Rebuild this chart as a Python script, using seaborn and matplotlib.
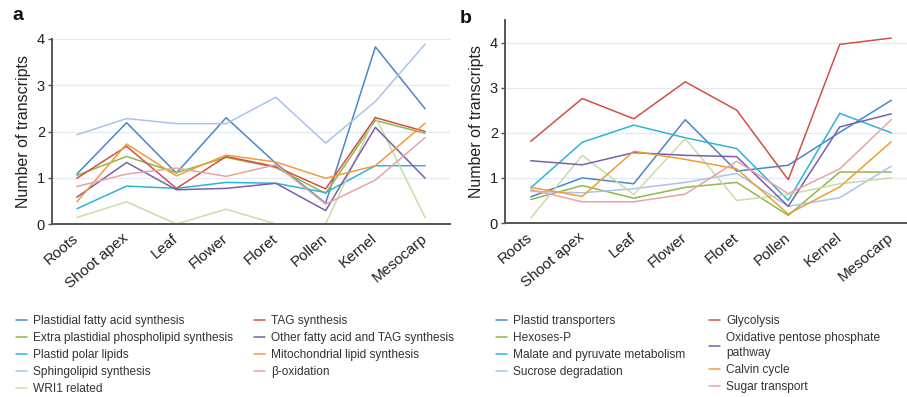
import numpy as np
import pandas as pd
import matplotlib
matplotlib.use("Agg")
import matplotlib.pyplot as plt
import seaborn as sns
from matplotlib.lines import Line2D

sns.set_theme(style="white")
plt.rcParams['font.family'] = ['Liberation Sans', 'DejaVu Sans']

tissues = ["Roots", "Shoot apex", "Leaf", "Flower", "Floret", "Pollen", "Kernel", "Mesocarp"]

# Panel a series
a_names = ["Plastidial fatty acid synthesis", "Extra plastidial phospholipid synthesis",
           "Plastid polar lipids", "Sphingolipid synthesis", "WRI1 related",
           "TAG synthesis", "Other fatty acid and TAG synthesis",
           "Mitochondrial lipid synthesis", "β-oxidation"]
a_plastidial_fa = [1.08, 2.19, 1.10, 2.30, 1.31, 0.45, 3.83, 2.49]
a_extra_plastidial = [1.05, 1.46, 1.11, 1.44, 1.22, 0.66, 2.24, 1.96]
a_plastid_polar = [0.33, 0.82, 0.77, 0.90, 0.88, 0.68, 1.26, 1.26]
a_sphingolipid = [1.93, 2.28, 2.17, 2.17, 2.74, 1.75, 2.65, 3.89]
a_wri1 = [0.14, 0.48, 0.0, 0.32, 0.0, 0.0, 2.32, 0.14]
a_tag = [0.99, 1.68, 0.77, 1.46, 1.24, 0.76, 2.30, 2.00]
a_other_fa = [0.58, 1.33, 0.74, 0.77, 0.88, 0.29, 2.09, 0.99]
a_mito = [0.48, 1.73, 1.04, 1.49, 1.34, 0.99, 1.26, 2.18]
a_beta_ox = [0.81, 1.08, 1.21, 1.03, 1.28, 0.43, 0.95, 1.87]

# Panel b series
b_names = ["Plastid transporters", "Hexoses-P", "Malate and pyruvate metabolism",
           "Sucrose degradation", "Unlabelled", "Glycolysis",
           "Oxidative pentose phosphate\npathway", "Calvin cycle", "Sugar transport"]
b_plastid_tr = [0.58, 1.00, 0.87, 2.29, 1.15, 1.28, 2.01, 2.72]
b_hexoses = [0.52, 0.83, 0.55, 0.79, 0.90, 0.17, 1.13, 1.13]
b_malate = [0.78, 1.79, 2.17, 1.89, 1.65, 0.50, 2.43, 2.00]
b_sucrose = [0.70, 0.67, 0.76, 0.90, 1.10, 0.37, 0.56, 1.26]
b_unlabelled = [0.11, 1.50, 0.63, 1.87, 0.50, 0.63, 0.87, 1.00]
b_glycolysis = [1.81, 2.76, 2.31, 3.13, 2.50, 0.96, 3.96, 4.10]
b_opp = [1.38, 1.29, 1.56, 1.50, 1.47, 0.37, 2.13, 2.42]
b_calvin = [0.79, 0.59, 1.59, 1.41, 1.20, 0.20, 0.80, 1.80]
b_sugar_tr = [0.74, 0.47, 0.47, 0.64, 1.37, 0.65, 1.20, 2.29]

colors = ["#4a86c8", "#8fb84a", "#2fb3d6", "#a8c4ea", "#c8dca8",
          "#d24f48", "#7b5fad", "#f39c34", "#e8a3a6"]

a_vals = [a_plastidial_fa, a_extra_plastidial, a_plastid_polar, a_sphingolipid, a_wri1,
          a_tag, a_other_fa, a_mito, a_beta_ox]
b_vals = [b_plastid_tr, b_hexoses, b_malate, b_sucrose, b_unlabelled,
          b_glycolysis, b_opp, b_calvin, b_sugar_tr]


def long_df(names, vals):
    rows = []
    for n, v in zip(names, vals):
        for t, y in zip(tissues, v):
            rows.append({"tissue": t, "series": n, "value": y})
    return pd.DataFrame(rows)


fig = plt.figure(figsize=(9.07, 3.97), dpi=100)
ax_a = fig.add_axes([52/907, 1-224/397, 398/907, 185/397])
ax_b = fig.add_axes([505/907, 1-223/397, 412/907, 203/397])

spine_col = "#555555"
grid_col = "#e4eaf4"

for ax, names, vals, ymax, yl in [(ax_a, a_names, a_vals, 4.0, 4),
                                  (ax_b, b_names, b_vals, 4.5, 4)]:
    df = long_df(names, vals)
    pal = dict(zip(names, colors))
    for y in range(1, yl + 1):
        ax.axhline(y, color=grid_col, lw=0.9, zorder=0)
    sns.lineplot(data=df, x="tissue", y="value", hue="series", palette=pal,
                 hue_order=names, sort=False, legend=False, ax=ax, lw=1.1,
                 estimator=None)
    ax.set_xlim(-0.5, 7.5)
    ax.set_ylim(0, ymax)
    ax.set_yticks(range(0, yl + 1))
    ax.set_xticks(range(len(tissues)))
    ax.set_xticklabels(tissues, rotation=40, ha="right", va="center",
                       rotation_mode="anchor", fontsize=11, color="#222222")
    ax.tick_params(axis="y", labelsize=10.5, length=3, width=1, color=spine_col,
                   labelcolor="#222222", pad=2, left=True)
    ax.tick_params(axis="x", length=0, pad=9)
    ax.set_xlabel("")
    ax.set_ylabel("Number of transcripts", fontsize=11.5, color="#222222", labelpad=4)
    for s in ["top", "right"]:
        ax.spines[s].set_visible(False)
    for s in ["left", "bottom"]:
        ax.spines[s].set_color(spine_col)
        ax.spines[s].set_linewidth(1.4)
    ax.set_facecolor("none")

fig.text(12/907, 1-20/397, "a", fontsize=14, fontweight="bold", color="#111111")
fig.text(460/907, 1-23/397, "b", fontsize=14, fontweight="bold", color="#111111")


def add_legend(idx, names, x_px):
    handles = [Line2D([0], [0], color=colors[i], lw=1.1) for i in idx]
    labels = [names[i] for i in idx]
    leg = fig.legend(handles, labels, loc="upper left",
                     bbox_to_anchor=(x_px/907, 1-315/397), frameon=False,
                     fontsize=8.6, handlelength=0.9, handletextpad=0.55,
                     labelspacing=0.42, borderpad=0, borderaxespad=0)
    for t in leg.get_texts():
        t.set_color("#333333")
        if "\n" in t.get_text():
            t.set_linespacing(1.35)
    return leg

add_legend([0, 1, 2, 3, 4], a_names, 16)
add_legend([5, 6, 7, 8], a_names, 254)
add_legend([0, 1, 2, 3], b_names, 496)
add_legend([5, 6, 7, 8], b_names, 709)

fig.savefig("out.png", dpi=100)
